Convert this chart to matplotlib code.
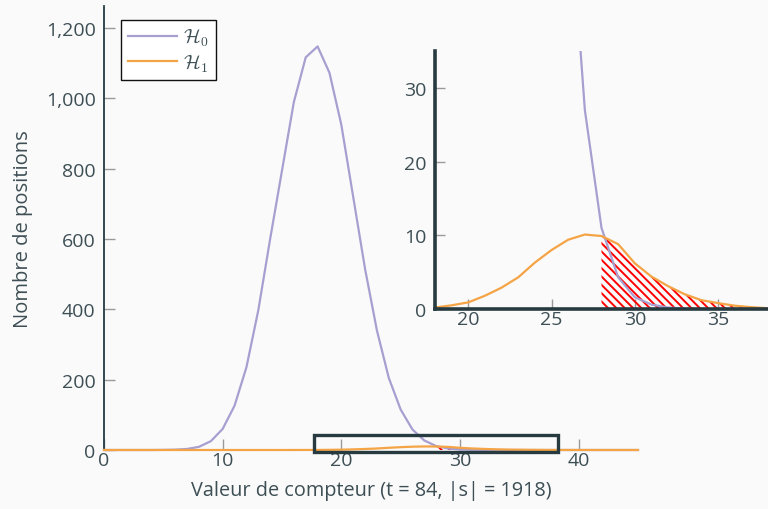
import matplotlib
matplotlib.use("Agg")
import matplotlib.pyplot as plt
from matplotlib.patches import Rectangle
from matplotlib.ticker import FuncFormatter
import numpy as np

plt.rcParams['font.family'] = ['Open Sans', 'DejaVu Sans']
plt.rcParams['mathtext.fontset'] = 'cm'
plt.rcParams['hatch.linewidth'] = 1.4

# Data: counter values and number of positions under each hypothesis
x_vals = list(range(0, 46))
h0_vals = [0, 0, 0, 0, 0, 0.3, 1, 3, 9, 25, 60, 126, 235, 397, 600, 795, 990,
           1117, 1148, 1073, 925, 720, 515, 340, 205, 115, 58, 27, 11, 4.3,
           1.6, 0.6, 0.2, 0.05, 0, 0, 0, 0, 0, 0, 0, 0, 0, 0, 0, 0]
h1_vals = [0, 0, 0, 0, 0, 0, 0, 0, 0, 0, 0, 0, 0, 0, 0.01, 0.02, 0.05, 0.1,
           0.2, 0.5, 0.9, 1.8, 2.9, 4.3, 6.3, 8.0, 9.4, 10.1, 9.9, 8.8, 6.2,
           4.4, 3.1, 2.0, 1.2, 0.8, 0.45, 0.25, 0.1, 0.05, 0.02, 0, 0, 0, 0, 0]
threshold = 28
labels = [r"$\mathcal{H}_0$", r"$\mathcal{H}_1$"]

BG = '#fafafa'
PURPLE = '#a89fd1'
ORANGE = '#f5a445'
DARK = '#263a40'
TEXT = '#3d4f55'
TICK = '#9a9a9a'

x = np.array(x_vals)
h0 = np.array(h0_vals)
h1 = np.array(h1_vals)
mask = x >= threshold
poly_x = np.concatenate([x[mask], x[mask][::-1]])
poly_y = np.concatenate([h1[mask], np.zeros(mask.sum())])


def hatched(a):
    a.fill(poly_x, poly_y, facecolor='none', edgecolor='#ff0000',
           hatch='\\\\\\\\', linewidth=0, zorder=2)


fig = plt.figure(figsize=(7.68, 5.10), dpi=100, facecolor=BG)
ax = fig.add_axes([104/768, 1-451/510, (638-104)/768, (451-7)/510])
ax.set_facecolor(BG)

hatched(ax)
ax.plot(x, h0, color=PURPLE, lw=1.6, label=labels[0], clip_on=False, zorder=3)
ax.plot(x, h1, color=ORANGE, lw=1.6, label=labels[1], clip_on=False, zorder=4)

ax.set_xlim(0, 45)
ax.set_ylim(0, 1263)
ax.set_xticks([0, 10, 20, 30, 40])
ax.set_yticks([0, 200, 400, 600, 800, 1000, 1200])
ax.yaxis.set_major_formatter(FuncFormatter(lambda v, p: f"{int(v):,}"))
for s in ['top', 'right', 'bottom']:
    ax.spines[s].set_visible(False)
ax.spines['left'].set_color(DARK)
ax.spines['left'].set_linewidth(1.3)
ax.tick_params(direction='in', length=8, width=1, color=TICK,
               labelcolor=TEXT, labelsize=14, pad=6)
ax.tick_params(axis='x', pad=1)
ax.set_xlabel("Valeur de compteur (t = 84, |s| = 1918)", color=TEXT,
              fontsize=14.3, labelpad=8)
ax.set_ylabel("Nombre de positions", color=TEXT, fontsize=14.5, labelpad=9)

rect = Rectangle((17.7, -5), 20.6, 47, fill=False, edgecolor=DARK, lw=2.4,
                 clip_on=False, zorder=5)
ax.add_patch(rect)

leg = ax.legend(loc='upper left', bbox_to_anchor=(0.032, 0.968),
                borderaxespad=0, fancybox=False, framealpha=1,
                edgecolor='#111111', fontsize=14, handlelength=2.5,
                handletextpad=0.35, labelspacing=0.2, borderpad=0.35)
leg.get_frame().set_linewidth(1.0)
leg.get_frame().set_facecolor('white')
for t in leg.get_texts():
    t.set_color(TEXT)

# Inset
axi = fig.add_axes([435/768, 1-310/510, (768-435)/768, (310-52)/510])
axi.set_facecolor(BG)
hatched(axi)
axi.plot(x, h0, color=PURPLE, lw=1.6, zorder=3)
axi.plot(x, h1, color=ORANGE, lw=1.6, zorder=4)
axi.set_xlim(18, 38)
axi.set_ylim(0, 35)
axi.set_xticks([20, 25, 30, 35])
axi.set_yticks([0, 10, 20, 30])
for s in ['top', 'right']:
    axi.spines[s].set_visible(False)
for s in ['left', 'bottom']:
    axi.spines[s].set_color(DARK)
    axi.spines[s].set_linewidth(2.6)
    axi.spines[s].set_zorder(6)
axi.tick_params(direction='in', length=7, width=1, color=TICK,
                labelcolor=TEXT, labelsize=14, pad=6)
axi.tick_params(axis='x', pad=1)

fig.savefig("out.png", dpi=100, facecolor=BG)
